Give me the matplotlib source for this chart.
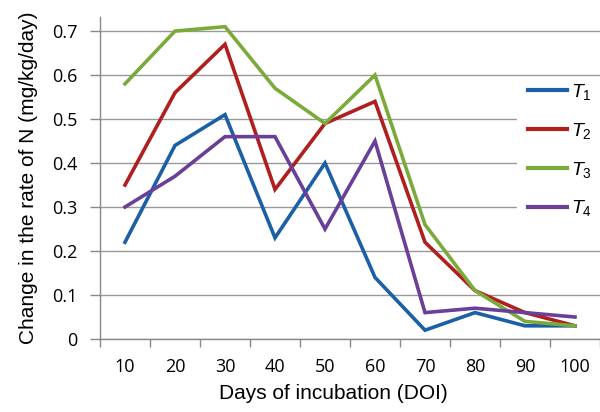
import numpy as np
import matplotlib.pyplot as plt
from matplotlib.patches import Rectangle

plt.rcParams['font.family'] = ['Liberation Sans', 'DejaVu Sans']
plt.rcParams['mathtext.fontset'] = 'custom'
plt.rcParams['mathtext.it'] = 'Liberation Sans:italic'
plt.rcParams['mathtext.rm'] = 'Liberation Sans'

# data
days = [10, 20, 30, 40, 50, 60, 70, 80, 90, 100]
t1 = [0.22, 0.44, 0.51, 0.23, 0.40, 0.14, 0.02, 0.06, 0.03, 0.03]
t2 = [0.35, 0.56, 0.67, 0.34, 0.49, 0.54, 0.22, 0.11, 0.06, 0.03]
t3 = [0.58, 0.70, 0.71, 0.57, 0.49, 0.60, 0.26, 0.11, 0.04, 0.03]
t4 = [0.30, 0.37, 0.46, 0.46, 0.25, 0.45, 0.06, 0.07, 0.06, 0.05]
labels = [r'$T_1$', r'$T_2$', r'$T_3$', r'$T_4$']
colors = ['#1b5fa6', '#b01e1e', '#7aab3a', '#6a3f98']

fig = plt.figure(figsize=(6, 4.12), dpi=100)
ax = fig.add_axes([100 / 600, 73 / 412, 500 / 600, 322 / 412])

x = np.arange(len(days))
for y, lab, c in zip([t1, t2, t3, t4], labels, colors):
    ax.plot(x, y, color=c, lw=2.6, label=lab, solid_joinstyle='miter')

ax.set_xlim(-0.5, len(days) - 0.5)
ax.set_ylim(0, 0.732)
ax.set_yticks(np.arange(0, 0.71, 0.1))
ax.set_yticklabels(['0', '0.1', '0.2', '0.3', '0.4', '0.5', '0.6', '0.7'],
                   family='Open Sans', fontsize=13)
ax.set_xticks(x)
ax.set_xticklabels([str(d) for d in days], family='Open Sans', fontsize=13)
ax.set_xticks(np.arange(-0.5, len(days)), minor=True)
ax.tick_params(axis='x', which='major', length=0, pad=14)
ax.tick_params(axis='x', which='minor', length=6, color='#888888', width=1)
ax.tick_params(axis='y', length=7, color='#888888', width=1, pad=9)

ax.grid(axis='y', color='#999999', lw=1)
ax.set_axisbelow(True)
for s in ['top', 'right']:
    ax.spines[s].set_visible(False)
for s in ['left', 'bottom']:
    ax.spines[s].set_color('#888888')
    ax.spines[s].set_linewidth(1)

ax.set_xlabel('Days of incubation (DOI)', fontsize=15)
ax.xaxis.set_label_coords(233 / 500, -45 / 322)
ax.set_ylabel('Change in the rate of N (mg/kg/day)', fontsize=15, labelpad=10)

# white legend area that hides the grid lines
ax.add_patch(Rectangle((517 / 600, 182 / 412), 83 / 600, 152 / 412,
                       transform=fig.transFigure, facecolor='white',
                       edgecolor='none', zorder=1, clip_on=False))

leg = ax.legend(loc='upper left', bbox_to_anchor=(522 / 600, 336 / 412),
                bbox_transform=fig.transFigure, frameon=False,
                fontsize=14, handlelength=2.0, handletextpad=0.2,
                labelspacing=0.97, borderpad=0.3, borderaxespad=0)
for h in leg.legend_handles:
    h.set_linewidth(3)

fig.savefig('out.png', dpi=100)
